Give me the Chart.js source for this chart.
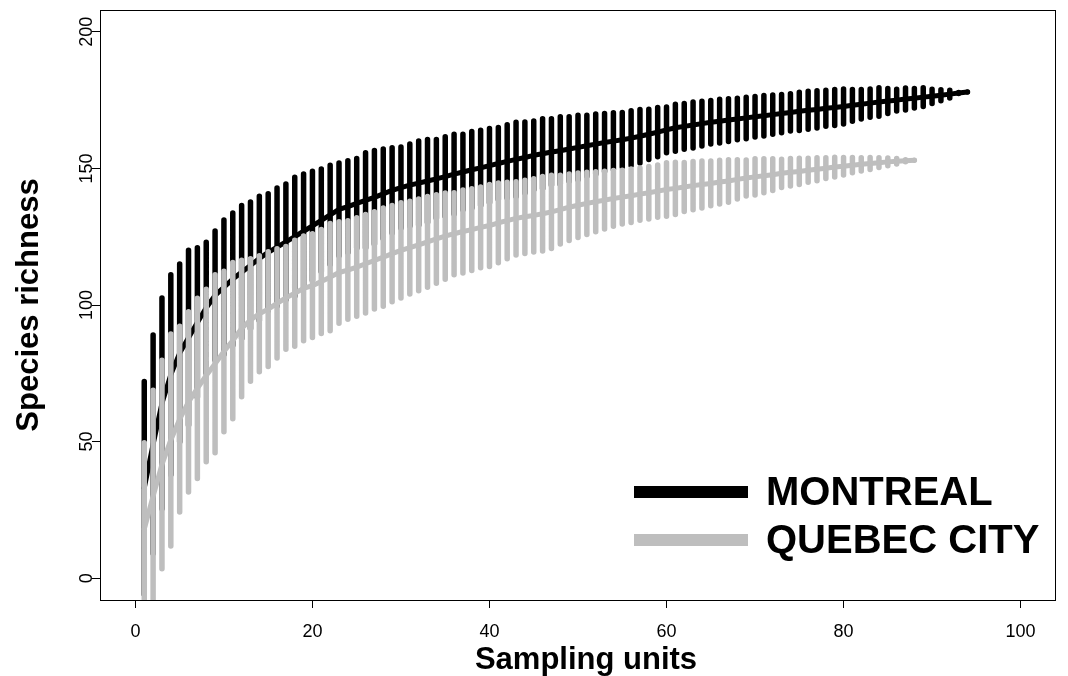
<!DOCTYPE html>
<html>
<head>
<meta charset="utf-8">
<script src="https://cdn.jsdelivr.net/npm/chart.js@4.4.1/dist/chart.umd.min.js"></script>
<style>
  html, body { margin: 0; padding: 0; background: #fff; }
  canvas { display: block; }
</style>
</head>
<body>
<canvas id="curvas" width="1068" height="676"></canvas>
<script>
// ticks
const xTicks = [0, 20, 40, 60, 80, 100];
const yTicks = [0, 50, 100, 150, 200];
const cities = ["MONTREAL", "QUEBEC CITY"];

// species accumulation, Montreal (sampling units 1..94)
const montrealRichness = [
  33, 49, 64, 74.5, 82.4, 88, 93.6, 99, 103.5, 106.5,
  109.5, 112, 114.5, 117, 119.3, 121.2, 123.1, 125, 127, 129,
  131, 133, 135, 136, 137.2, 138.3, 139.4, 140.7, 142, 143,
  143.9, 144.6, 145.4, 146.2, 147, 147.9, 148.7, 149.5, 150.2, 151,
  151.8, 152.6, 153.3, 154, 154.8, 155.4, 156, 156.5, 157.1, 157.7,
  158.3, 158.9, 159.5, 160, 160.5, 161.1, 161.8, 162.5, 163.3, 164.1,
  164.9, 165.4, 165.9, 166.4, 166.9, 167.3, 167.7, 168.1, 168.5, 168.9,
  169.3, 169.7, 170.1, 170.5, 170.9, 171.3, 171.6, 172, 172.3, 172.7,
  173.1, 173.5, 173.9, 174.3, 174.7, 175, 175.4, 175.7, 176.1, 176.4,
  176.8, 177.2, 177.6, 178
];
const montrealSd = [
  19.5, 20, 19.3, 18.3, 16.3, 16, 13.7, 12, 11.8, 12.3,
  12.1, 12.2, 11.6, 11.4, 10.7, 10.8, 10.6, 10.9, 10.5, 10,
  9.4, 9.1, 8.5, 8.4, 8.2, 8.7, 8.6, 8.2, 7.8, 7.4,
  7.5, 7.7, 7.6, 7.2, 7.3, 7.3, 6.9, 7, 6.9, 6.8,
  6.6, 6.7, 6.8, 6.5, 6.3, 6.4, 6.1, 6.2, 5.9, 5.9,
  5.6, 5.5, 5.3, 5.2, 5, 5, 4.9, 4.6, 4.5, 4.2,
  4.3, 4.2, 4.2, 4.1, 4, 4, 3.9, 3.8, 3.8, 3.7,
  3.7, 3.6, 3.5, 3.4, 3.5, 3.5, 3.4, 3.3, 3.3, 3.2,
  2.9, 2.7, 2.6, 2.6, 2.3, 2, 2, 1.8, 1.7, 1.3,
  1, 0.7, 0.1, 0
];

// species accumulation, Quebec City (sampling units 1..88)
const quebecRichness = [
  18, 30, 41.6, 50.6, 58.2, 64.5, 69.5, 74.2, 78.5, 83,
  87, 91.4, 94.5, 96.8, 98.5, 100.6, 102.6, 104.3, 106.1, 107.1,
  108.6, 110.2, 111.9, 112.8, 113.9, 115.1, 116.3, 117.5, 118.8, 120,
  121, 122, 123.1, 124.2, 125.2, 126.1, 126.9, 127.6, 128.4, 129.1,
  130.1, 130.9, 131.7, 132.3, 132.8, 133.4, 134.1, 134.9, 135.8, 136.5,
  137.2, 137.8, 138.4, 139, 139.5, 140, 140.6, 141.1, 141.7, 142.3,
  142.7, 143.2, 143.7, 144.1, 144.5, 145, 145.4, 146, 146.5, 146.9,
  147.3, 147.7, 148.2, 148.6, 148.9, 149.3, 149.7, 150.1, 150.5, 150.8,
  151.2, 151.5, 151.8, 152.1, 152.4, 152.6, 152.8, 153
];
const quebecSd = [
  15.8, 19.4, 19.1, 19.4, 17, 16.5, 16.5, 15.8, 16.3, 14.7,
  14.3, 12.5, 11.2, 10.6, 10.5, 10, 9.4, 9.7, 9.6, 9.5,
  9.5, 9.8, 9.3, 9, 9, 9, 8.9, 9, 8.8, 8.7,
  8.5, 8.4, 8.3, 8.1, 7.9, 7.5, 7.6, 7.5, 7.4, 7.5,
  7.3, 7, 6.7, 6.7, 6.7, 6.8, 6.7, 6.3, 6.1, 5.9,
  5.7, 5.5, 5.3, 5.1, 4.9, 4.9, 4.8, 4.8, 4.8, 4.9,
  4.8, 4.5, 4.4, 4.3, 4.1, 4, 3.9, 3.6, 3.3, 3.3,
  3.1, 2.9, 2.6, 2.5, 2.4, 2.2, 2.1, 1.9, 1.8, 1.6,
  1.4, 1.2, 1.1, 0.9, 0.7, 0.5, 0.2, 0
];

const cityColors = ["#000000", "#bebebe"];
const FONT = "'Liberation Sans', Arial, Helvetica, sans-serif";

// mean curve as {x, y}
function curva(richness) {
  return richness.map((r, i) => ({ x: i + 1, y: r }));
}

// vertical bars at +/- 2 sd, separated by gaps
function barras(richness, sd) {
  const pts = [];
  richness.forEach((r, i) => {
    pts.push({ x: i + 1, y: r - 2 * sd[i] });
    pts.push({ x: i + 1, y: r + 2 * sd[i] });
    pts.push({ x: i + 1, y: null });
  });
  return pts;
}

const extras = {
  id: "extras",
  afterDraw(chart) {
    const ctx = chart.ctx;
    const a = chart.chartArea;
    const ys = chart.scales.y;
    ctx.save();

    // box
    ctx.strokeStyle = "#000";
    ctx.lineWidth = 1;
    ctx.strokeRect(a.left + 0.5, a.top + 0.5, a.right - a.left - 1, a.bottom - a.top);

    // y tick labels, parallel to axis
    ctx.fillStyle = "#000";
    ctx.font = "18px " + FONT;
    ctx.textAlign = "center";
    ctx.textBaseline = "middle";
    yTicks.forEach(v => {
      ctx.save();
      ctx.translate(87, ys.getPixelForValue(v));
      ctx.rotate(-Math.PI / 2);
      ctx.fillText(String(v), 0, 0);
      ctx.restore();
    });

    // axis titles
    ctx.font = "bold 31px " + FONT;
    ctx.fillText("Sampling units", 586, 660);
    ctx.save();
    ctx.translate(29, (a.top + a.bottom) / 2);
    ctx.rotate(-Math.PI / 2);
    ctx.fillText("Species richness", 0, 0);
    ctx.restore();

    // legend
    const linhas = [492, 540];
    ctx.textAlign = "left";
    ctx.font = "bold 40px " + FONT;
    cities.forEach((nome, i) => {
      ctx.strokeStyle = cityColors[i];
      ctx.lineWidth = 12;
      ctx.lineCap = "butt";
      ctx.beginPath();
      ctx.moveTo(634, linhas[i]);
      ctx.lineTo(748, linhas[i]);
      ctx.stroke();
      ctx.fillStyle = "#000";
      ctx.fillText(nome, 766, linhas[i] + 2);
    });

    ctx.restore();
  }
};

new Chart(document.getElementById("curvas"), {
  type: "scatter",
  data: {
    datasets: [
      {
        label: cities[0] + " sd",
        data: barras(montrealRichness, montrealSd),
        showLine: true, spanGaps: false,
        borderColor: cityColors[0], borderWidth: 5.5, borderCapStyle: "round",
        pointRadius: 0, clip: 0, order: 4
      },
      {
        label: cities[0],
        data: curva(montrealRichness),
        showLine: true,
        borderColor: cityColors[0], borderWidth: 5, borderCapStyle: "round", borderJoinStyle: "round",
        pointRadius: 0, clip: 0, order: 3
      },
      {
        label: cities[1] + " sd",
        data: barras(quebecRichness, quebecSd),
        showLine: true, spanGaps: false,
        borderColor: cityColors[1], borderWidth: 5.5, borderCapStyle: "round",
        pointRadius: 0, clip: 0, order: 2
      },
      {
        label: cities[1],
        data: curva(quebecRichness),
        showLine: true,
        borderColor: cityColors[1], borderWidth: 5, borderCapStyle: "round", borderJoinStyle: "round",
        pointRadius: 0, clip: 0, order: 1
      }
    ]
  },
  options: {
    responsive: false,
    animation: false,
    devicePixelRatio: 1,
    layout: { padding: { top: 10, right: 12, left: 0, bottom: 0 } },
    plugins: { legend: { display: false }, tooltip: { enabled: false } },
    scales: {
      x: {
        type: "linear", min: -4, max: 104,
        afterBuildTicks: s => { s.ticks = xTicks.map(v => ({ value: v })); },
        afterFit: s => { s.height = 76; },
        grid: { display: true, drawOnChartArea: false, drawTicks: true, tickLength: 8, color: "#000" },
        border: { display: false },
        ticks: { color: "#000", font: { family: FONT, size: 18 }, padding: 13, maxRotation: 0 }
      },
      y: {
        type: "linear", min: -8, max: 208,
        afterBuildTicks: s => { s.ticks = yTicks.map(v => ({ value: v })); },
        afterFit: s => { s.width = 100; },
        grid: { display: true, drawOnChartArea: false, drawTicks: true, tickLength: 8, color: "#000" },
        border: { display: false },
        ticks: { display: false }
      }
    }
  },
  plugins: [extras]
});
</script>
</body>
</html>
